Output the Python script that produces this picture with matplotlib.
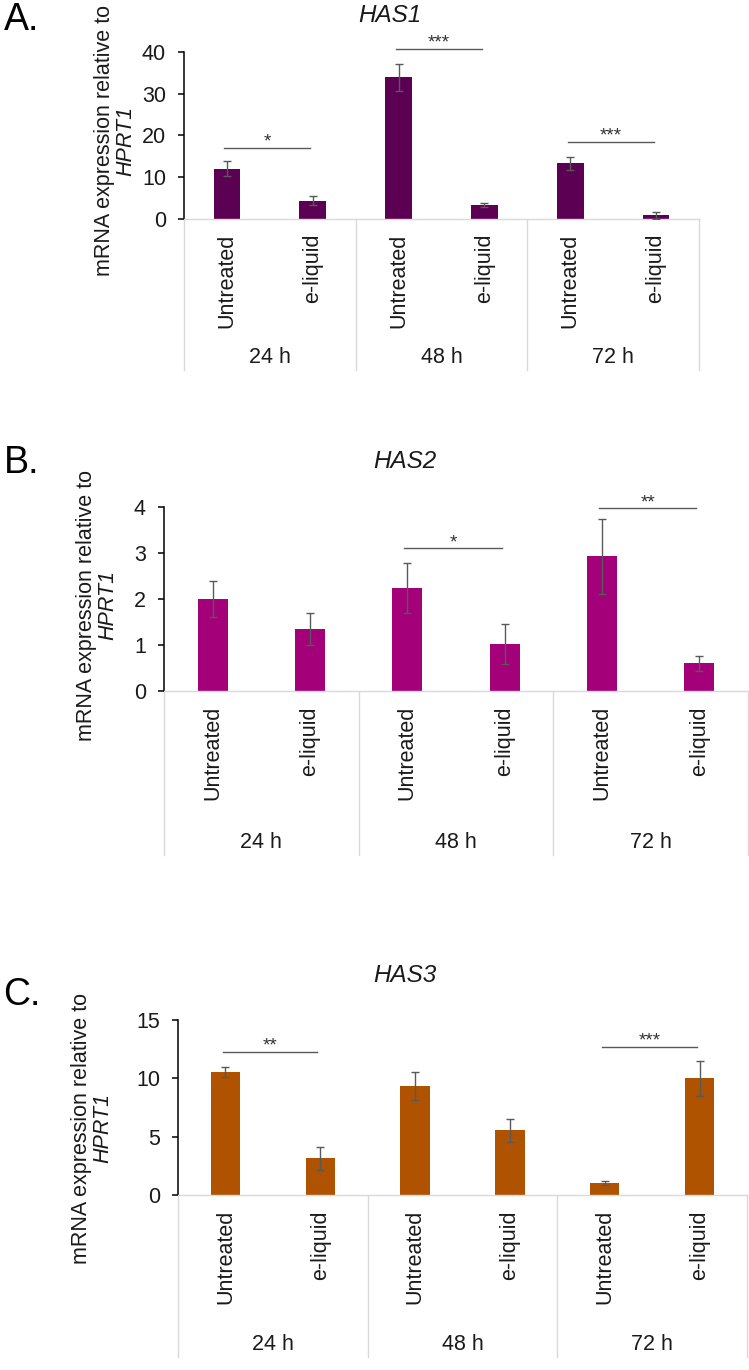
import matplotlib
matplotlib.use("Agg")
import matplotlib.pyplot as plt
import matplotlib.transforms as mtransforms

plt.rcParams['font.family'] = ['Liberation Sans', 'DejaVu Sans']

W, H = 749, 1370
DPI = 100

conditions = ["Untreated", "e-liquid"]
timepoints = ["24 h", "48 h", "72 h"]

# order: 24h untreated, 24h e-liquid, 48h untreated, 48h e-liquid, 72h untreated, 72h e-liquid
has1_mean = [12.0, 4.3, 33.9, 3.3, 13.3, 0.8]
has1_err = [1.8, 1.1, 3.2, 0.4, 1.6, 0.8]
has2_mean = [2.0, 1.35, 2.24, 1.02, 2.93, 0.6]
has2_err = [0.4, 0.34, 0.55, 0.44, 0.82, 0.17]
has3_mean = [10.55, 3.13, 9.32, 5.53, 1.04, 10.0]
has3_err = [0.43, 0.95, 1.2, 0.95, 0.2, 1.5]

# (time point index, height of the bracket, label)
has1_sig = [(0, 17.0, "*"), (1, 40.8, "***"), (2, 18.4, "***")]
has2_sig = [(1, 3.1, "*"), (2, 3.97, "**")]
has3_sig = [(0, 12.3, "**"), (2, 12.7, "***")]

FS = 15.5
GRID = '#D9D9D9'
ERR = '#595959'
TXT = '#1a1a1a'

fig = plt.figure(figsize=(W / DPI, H / DPI), dpi=DPI)


def px_axes(left, top, right, bottom):
    return fig.add_axes([left / W, 1 - bottom / H, (right - left) / W, (bottom - top) / H])


def draw_panel(box, means, errs, sigs, color, ymax, ystep, gene, letter,
               letter_y, title_x, title_y, lab_x, lab_y, group_off):
    left, top, right, bottom = box
    ax = px_axes(left, top, right, bottom)
    h_px = bottom - top
    x = list(range(len(means)))

    ax.bar(x, means, width=0.31, color=color, zorder=2)
    ax.errorbar(x, means, yerr=errs, fmt='none', ecolor=ERR, elinewidth=1,
                capsize=3, capthick=1, zorder=3)

    ax.set_xlim(-0.5, len(means) - 0.5)
    ax.set_ylim(0, ymax)
    ax.set_yticks(range(0, ymax + 1, ystep))
    ax.tick_params(axis='y', direction='out', length=4, width=1.1, labelsize=FS,
                   pad=9, labelcolor=TXT)
    ax.set_xticks([])
    for s in ['top', 'right']:
        ax.spines[s].set_visible(False)
    ax.spines['left'].set_linewidth(1.1)
    ax.spines['bottom'].set_color(GRID)
    ax.spines['bottom'].set_linewidth(1)

    # category labels, rotated
    for i, xi in enumerate(x):
        ax.annotate(conditions[i % 2], xy=(xi, 0), xycoords=('data', 'axes fraction'),
                    xytext=(0, -15), textcoords='offset pixels', rotation=90,
                    ha='center', va='top', fontsize=FS, color=TXT)

    # group dividers and time point labels
    trans = mtransforms.blended_transform_factory(ax.transData, ax.transAxes)
    depth = (group_off + 12) / h_px
    for g in range(len(timepoints) + 1):
        xd = -0.5 + 2 * g
        ax.plot([xd, xd], [0, -depth], transform=trans, color=GRID, lw=1,
                clip_on=False, zorder=1)
    for g, t in enumerate(timepoints):
        ax.annotate(t, xy=(2 * g + 0.5, 0), xycoords=('data', 'axes fraction'),
                    xytext=(0, -group_off), textcoords='offset pixels',
                    ha='center', va='center', fontsize=FS, color=TXT)

    # significance brackets
    for g, yv, lab in sigs:
        x0, x1 = 2 * g - 0.03, 2 * g + 1 - 0.03
        ax.plot([x0, x1], [yv, yv], color=ERR, lw=1, clip_on=False, zorder=3)
        ax.annotate(lab, xy=((x0 + x1) / 2, yv), xytext=(0, 1), textcoords='offset pixels',
                    ha='center', va='baseline', fontsize=FS - 2, color='#333333',
                    annotation_clip=False)

    # y axis title, two lines
    fig.text(lab_x[0] / W, 1 - lab_y / H, "mRNA expression relative to", rotation=90,
             ha='center', va='center', fontsize=FS, color=TXT)
    fig.text(lab_x[1] / W, 1 - lab_y / H, "HPRT1", rotation=90, style='italic',
             ha='center', va='center', fontsize=FS, color=TXT)

    fig.text(title_x / W, 1 - title_y / H, gene, style='italic', ha='center', va='center',
             fontsize=17.5, color=TXT)
    fig.text(22 / W, 1 - letter_y / H, letter, ha='center', va='center', fontsize=27,
             color='black')
    return ax


draw_panel((184, 52, 699, 218.6), has1_mean, has1_err, has1_sig, '#5C0053', 40, 10,
           "HAS1", "A.", 20, 390, 16, (105, 126), 141, 139)
draw_panel((164, 507, 748, 691), has2_mean, has2_err, has2_sig, '#A3007A', 4, 1,
           "HAS2", "B.", 463, 405, 462, (87, 108), 605, 152)
draw_panel((178, 1020, 747, 1195), has3_mean, has3_err, has3_sig, '#B05300', 15, 5,
           "HAS3", "C.", 995, 405, 976, (82, 103), 1128, 150)

fig.savefig("out.png", dpi=DPI)
